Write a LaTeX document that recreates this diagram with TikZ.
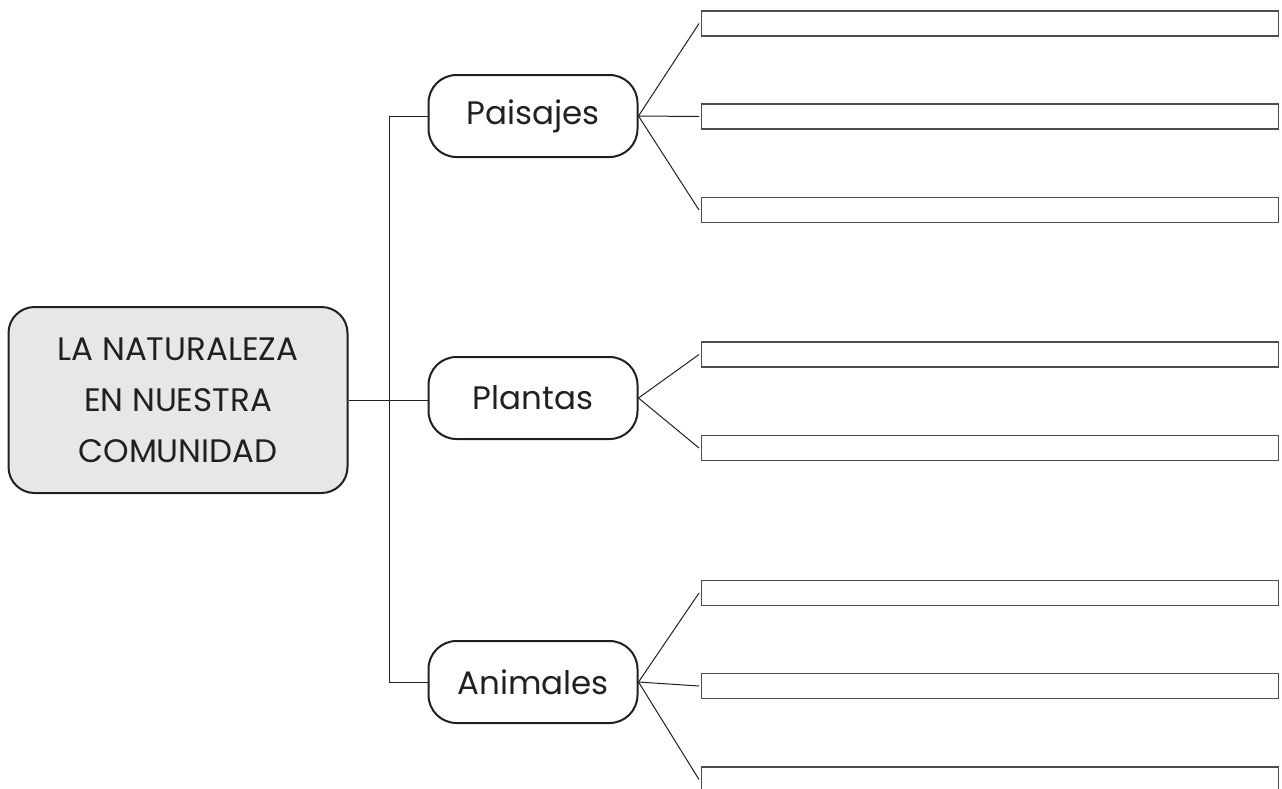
\documentclass[tikz,border=0pt]{standalone}
\usepackage{fontspec}
\setmainfont{Poppins}
\definecolor{ink}{HTML}{231F20}
\definecolor{boxgray}{HTML}{E6E7E8}
\definecolor{blankline}{HTML}{4D4D4F}
\begin{document}
\begin{tikzpicture}[x=1pt,y=-1pt,
  mainbox/.style={draw=ink, line width=2pt, rounded corners=26pt, fill=boxgray,
    minimum width=339pt, minimum height=186pt, inner sep=0pt, align=center,
    font=\fontsize{32.5}{51}\selectfont, text=ink},
  branch/.style={draw=ink, line width=2pt, rounded corners=28pt,
    minimum width=209pt, minimum height=82pt, inner sep=0pt,
    font=\fontsize{32.5}{40}\selectfont, text=ink},
  blank/.style={draw=blankline, line width=1.4pt, minimum width=577pt,
    minimum height=25pt, inner sep=0pt, anchor=west},
  link/.style={draw=ink, line width=1pt}]
\useasboundingbox (0,0) rectangle (1282,788);
\clip (0,0) rectangle (1282,788);

\node[mainbox] (main) at (178,400) {LA NATURALEZA\\EN NUESTRA\\COMUNIDAD};
\node[branch] (pai) at (533,116) {Paisajes};
\node[branch] (pla) at (533,398) {Plantas};
\node[branch] (ani) at (533,682) {Animales};

\coordinate (jt) at (389,116);
\coordinate (jm) at (389,400);
\coordinate (jb) at (389,682);

\draw[link] (main.east |- jm) -- (jm);
\draw[link] (jm) -- (pla.west |- jm);
\draw[link] (pai.west) -- (jt) -- (jb) -- (ani.west);

\node[blank] (p1) at (701,23.5) {};
\node[blank] (p2) at (701,116.5) {};
\node[blank] (p3) at (701,210) {};
\node[blank] (l1) at (701,354.5) {};
\node[blank] (l2) at (701,448) {};
\node[blank] (a1) at (701,593) {};
\node[blank] (a2) at (701,686) {};
\node[blank] (a3) at (701,779.5) {};

\foreach \b in {p1,p2,p3} \draw[link] (pai.east) -- ([xshift=-2pt]\b.west);
\foreach \b in {l1,l2} \draw[link] (pla.east) -- ([xshift=-2pt]\b.west);
\foreach \b in {a1,a2,a3} \draw[link] (ani.east) -- ([xshift=-2pt]\b.west);
\end{tikzpicture}
\end{document}
